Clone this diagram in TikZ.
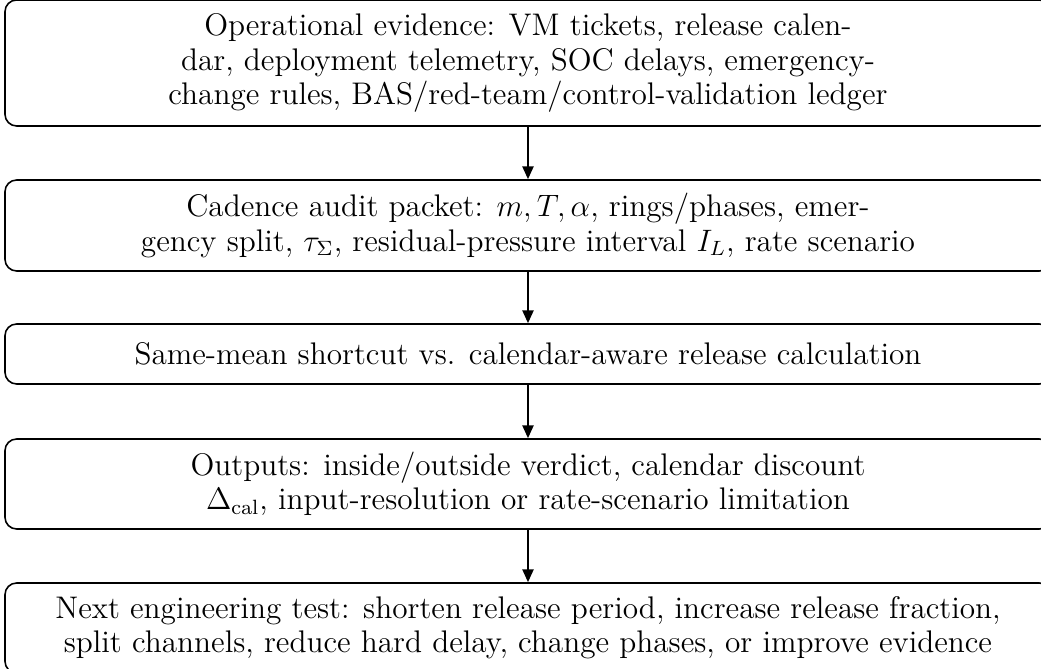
\documentclass[tikz,border=0pt]{standalone}
\usetikzlibrary{arrows.meta}
\begin{document}
\begin{tikzpicture}[x=0.3871pt,y=-0.3871pt,
  stagebox/.style={draw, rounded corners=4.5pt, align=center, inner sep=0pt, line width=0.6pt,
    font=\fontsize{12.1}{13.2}\selectfont, minimum width=1046*0.3871pt},
  flow/.style={-{Triangle[length=5pt,width=4.3pt]}, line width=0.8pt}]
\useasboundingbox (0,0) rectangle (1041,669);
\clip (0,0) rectangle (1041,669);
\node[stagebox, minimum height=126*0.3871pt] (b1) at (528,63)
  {Operational evidence: VM tickets, release calen-\\dar, deployment telemetry, SOC delays, emergency-\\change rules, BAS/red-team/control-validation ledger};
\node[stagebox, minimum height=91*0.3871pt] (b2) at (528,225.5)
  {Cadence audit packet: $m, T, \alpha$, rings/phases, emer-\\gency split, $\tau_\Sigma$, residual-pressure interval $I_L$, rate scenario};
\node[stagebox, minimum height=60*0.3871pt] (b3) at (528,354)
  {Same-mean shortcut vs. calendar-aware release calculation};
\node[stagebox, minimum height=90*0.3871pt] (b4) at (528,484)
  {Outputs: inside/outside verdict, calendar discount\\$\Delta_{\mathrm{cal}}$, input-resolution or rate-scenario limitation};
\node[stagebox, minimum height=90*0.3871pt] (b5) at (528,628)
  {Next engineering test: shorten release period, increase release fraction,\\split channels, reduce hard delay, change phases, or improve evidence};
\draw[flow] (b1) -- (b2);
\draw[flow] (b2) -- (b3);
\draw[flow] (b3) -- (b4);
\draw[flow] (b4) -- (b5);
\end{tikzpicture}
\end{document}
